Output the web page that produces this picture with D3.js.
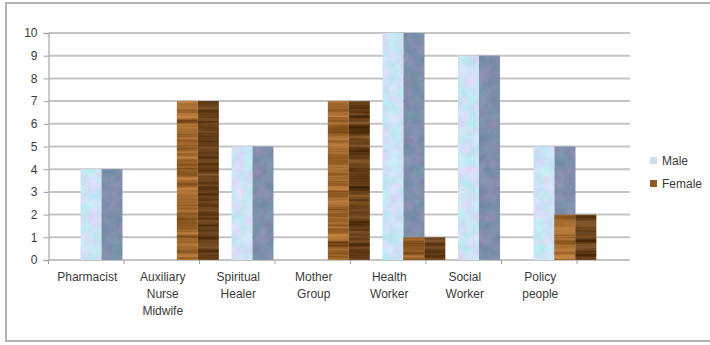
<!DOCTYPE html>
<html>
<head>
<meta charset="utf-8">
<script src="https://cdn.jsdelivr.net/npm/d3@7"></script>
<style>
  html, body { margin: 0; padding: 0; background: #fff; }
  svg { display: block; }
  text { font-family: "Liberation Sans", Arial, sans-serif; fill: #3a3a3a; }
</style>
</head>
<body>
<svg id="chart" width="710" height="345"></svg>
<script>
// Staff counts by role and gender
const categories = ["Pharmacist", "Auxiliary Nurse Midwife", "Spiritual Healer", "Mother Group",
                    "Health Worker", "Social Worker", "Policy people"];
const categoryLines = [["Pharmacist"], ["Auxiliary", "Nurse", "Midwife"], ["Spiritual", "Healer"],
                       ["Mother", "Group"], ["Health", "Worker"], ["Social", "Worker"], ["Policy", "people"]];
const male   = [4, 0, 5, 0, 10, 9, 5];
const female = [0, 7, 0, 7, 1, 0, 2];
const seriesNames = ["Male", "Female"];
const yTicks = [0, 1, 2, 3, 4, 5, 6, 7, 8, 9, 10];

const svg = d3.select("#chart");
const defs = svg.append("defs");

// Noise-based fills: turbulence is tinted around a base colour and clipped to the shape.
// mix = weights of the R and G noise channels feeding each output channel.
function textureFilter(id, freq, octaves, seed, base, amp, tint) {
  const f = defs.append("filter").attr("id", id)
    .attr("x", 0).attr("y", 0).attr("width", 1).attr("height", 1)
    .attr("color-interpolation-filters", "sRGB");
  f.append("feTurbulence").attr("type", "fractalNoise")
    .attr("baseFrequency", freq).attr("numOctaves", octaves).attr("seed", seed)
    .attr("result", "noise");
  const [r, g, b] = base;
  // luminance-like variation from R channel, hue variation from G channel
  const [tr, tg, tb] = tint;
  f.append("feColorMatrix").attr("in", "noise").attr("type", "matrix")
    .attr("values", [
      amp * 1, tr, 0, 0, r - amp * 0.5 - tr * 0.5,
      amp * 0.8, tg, 0, 0, g - amp * 0.4 - tg * 0.5,
      amp * 0.6, tb, 0, 0, b - amp * 0.3 - tb * 0.5,
      0, 0, 0, 0, 1].join(" "))
    .attr("result", "tint");
  f.append("feComposite").attr("in", "tint").attr("in2", "SourceGraphic").attr("operator", "in");
}
textureFilter("maleFront", "0.09", 3, 4, [0.80, 0.89, 0.96], 0.10, [0.30, -0.15, 0.05]);
textureFilter("maleSide", "0.09", 3, 9, [0.50, 0.56, 0.67], 0.12, [0.18, -0.08, 0.06]);
textureFilter("woodFront", "0.004 0.22", 4, 2, [0.62, 0.40, 0.17], 0.55, [0, 0, 0]);
textureFilter("woodSide", "0.004 0.22", 4, 7, [0.40, 0.25, 0.10], 0.45, [0, 0, 0]);

const plotLeft = 48.5, plotRight = 577, gridRight = 630;
const x = d3.scaleBand().domain(categories).range([plotLeft, plotRight]).paddingInner(0).paddingOuter(0);
const y = d3.scaleLinear().domain([0, 10]).range([260, 33]);

// Outer frame
svg.append("rect").attr("x", 6).attr("y", 3).attr("width", 720).attr("height", 338)
  .attr("fill", "none").attr("stroke", "#b3b3b3").attr("stroke-width", 2);

// Horizontal gridlines
svg.append("g").selectAll("line").data(yTicks).join("line")
  .attr("x1", plotLeft).attr("x2", gridRight)
  .attr("y1", d => y(d)).attr("y2", d => y(d))
  .attr("stroke", "#c4c4c4").attr("stroke-width", 2);

// Y axis
const yAxis = svg.append("g").attr("transform", `translate(${plotLeft},0)`)
  .call(d3.axisLeft(y).tickValues(yTicks).tickFormat(d3.format("d")).tickSize(5).tickPadding(6));
yAxis.select(".domain").attr("stroke", "#b8b8b8").attr("stroke-width", 1.5);
yAxis.selectAll(".tick line").attr("stroke", "#a0a0a0");
yAxis.selectAll(".tick text").style("font-size", "12px").style("font-family", "Liberation Sans, Arial, sans-serif").attr("fill", "#333");

// X axis baseline ticks at category boundaries
const bounds = categories.map(c => x(c)).concat([plotRight]);
svg.append("g").selectAll("line").data(bounds).join("line")
  .attr("x1", d => d).attr("x2", d => d).attr("y1", y(0)).attr("y2", y(0) + 4)
  .attr("stroke", "#a0a0a0").attr("stroke-width", 1);

// Bars: each bar has a lit front half and a shaded side half
const bw = x.bandwidth();
const barW = bw * 0.556;
const offsets = [bw * 0.424, bw * 0.70];
const fills = [["maleFront", "maleSide"], ["woodFront", "woodSide"]];
const series = [male, female];

series.forEach((vals, si) => {
  const g = svg.append("g");
  const data = categories.map((c, i) => ({ c, v: vals[i] })).filter(d => d.v > 0);
  [0, 1].forEach(half => {
    g.selectAll(null).data(data).join("rect")
      .attr("x", d => x(d.c) + offsets[si] + half * barW / 2)
      .attr("y", d => y(d.v))
      .attr("width", barW / 2)
      .attr("height", d => y(0) - y(d.v))
      .attr("fill", "#000")
      .attr("filter", `url(#${fills[si][half]})`);
  });
});

// Category labels
const lab = svg.append("g");
categories.forEach((c, i) => {
  const t = lab.append("text")
    .attr("x", x(c) + bw / 2 + 1).attr("y", 281)
    .attr("text-anchor", "middle").style("font-size", "12px");
  categoryLines[i].forEach((line, li) => {
    t.append("tspan").attr("x", x(c) + bw / 2 + 1).attr("dy", li === 0 ? 0 : 17).text(line);
  });
});

// Legend
const legendColors = ["#c8def2", "#8d5a28"];
const leg = svg.append("g").attr("transform", "translate(650,0)");
seriesNames.forEach((n, i) => {
  leg.append("rect").attr("x", 0).attr("y", 157 + i * 23).attr("width", 7).attr("height", 7)
    .attr("fill", legendColors[i]);
  leg.append("text").attr("x", 12).attr("y", 165 + i * 23).style("font-size", "12px").text(n);
});
</script>
</body>
</html>
